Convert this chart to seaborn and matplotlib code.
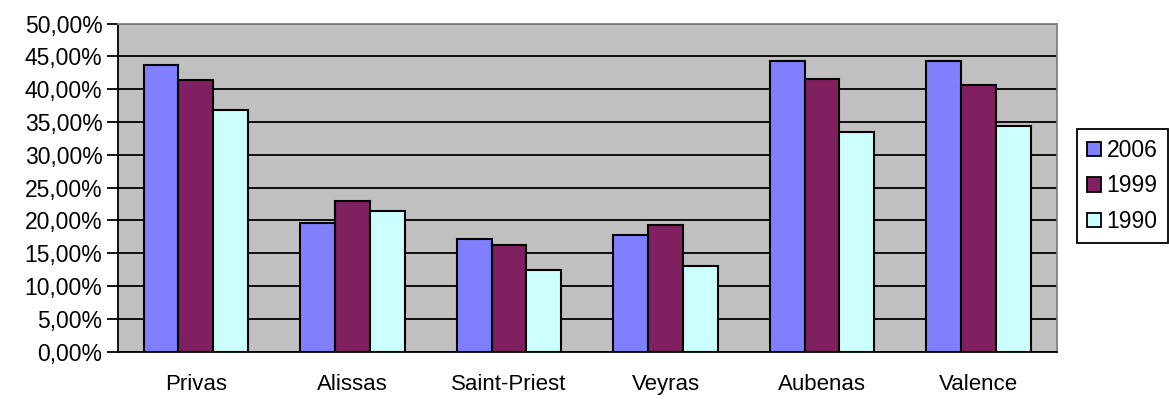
import matplotlib
matplotlib.use("Agg")
import matplotlib.pyplot as plt
from matplotlib.ticker import FixedLocator, FuncFormatter, MultipleLocator
from matplotlib.patches import Patch
import pandas as pd
import seaborn as sns

communes = ["Privas", "Alissas", "Saint-Priest", "Veyras", "Aubenas", "Valence"]
years = ["2006", "1999", "1990"]
share_2006 = [43.7, 19.6, 17.2, 17.8, 44.3, 44.3]
share_1999 = [41.4, 22.9, 16.3, 19.3, 41.6, 40.7]
share_1990 = [36.9, 21.4, 12.5, 13.1, 33.5, 34.4]
colors = ["#8080FF", "#802060", "#CCFFFF"]

rows = []
for year, vals in zip(years, [share_2006, share_1999, share_1990]):
    for c, v in zip(communes, vals):
        rows.append({"commune": c, "year": year, "value": v})
df = pd.DataFrame(rows)

sns.set_theme(style="white")
plt.rcParams["font.family"] = ["Liberation Sans", "DejaVu Sans"]
FS = 16.5

fig = plt.figure(figsize=(11.69, 4.0), dpi=100)
ax = fig.add_axes([0.1007, 0.121, 0.8033, 0.820])
ax.set_facecolor("#C0C0C0")

sns.barplot(data=df, x="commune", y="value", hue="year", hue_order=years,
            order=communes, palette=colors, width=0.67, gap=0,
            edgecolor="black", linewidth=1.5, saturation=1, ax=ax,
            legend=False, zorder=3)

ax.set_ylim(0, 50)
ax.set_xlim(-0.5, len(communes) - 0.5)
ax.yaxis.set_major_locator(MultipleLocator(5))
ax.yaxis.set_major_formatter(FuncFormatter(lambda v, p: f"{v:.2f}".replace(".", ",") + "%"))
ax.yaxis.grid(True, color="black", linewidth=1.3, zorder=1)
ax.set_axisbelow(True)

ax.xaxis.set_minor_locator(FixedLocator([i - 0.5 for i in range(len(communes) + 1)]))
ax.tick_params(axis="x", which="major", length=0, pad=16, labelsize=16, labelcolor="black")
ax.tick_params(axis="x", which="minor", length=8, width=1.3, color="black", direction="out")
ax.tick_params(axis="y", which="major", length=8, width=1.3, color="black",
               direction="out", labelsize=FS, labelcolor="black", pad=3, left=True)
ax.set_xlabel("")
ax.set_ylabel("")

for side in ["left", "bottom"]:
    ax.spines[side].set_color("black")
    ax.spines[side].set_linewidth(1.3)
for side in ["top", "right"]:
    ax.spines[side].set_color("#808080")
    ax.spines[side].set_linewidth(1.3)

handles = [Patch(facecolor=c, edgecolor="black", linewidth=1.3) for c in colors]
leg = fig.legend(handles, years, loc="center left", bbox_to_anchor=(0.921, 0.535),
                 fontsize=FS, frameon=True, fancybox=False, edgecolor="black",
                 framealpha=1, handlelength=0.6, handleheight=0.6, handletextpad=0.25,
                 labelspacing=0.55, borderpad=0.45, borderaxespad=0)
leg.get_frame().set_linewidth(1.3)
for t in leg.get_texts():
    t.set_color("black")

fig.savefig("out.png", dpi=100, facecolor="white")
